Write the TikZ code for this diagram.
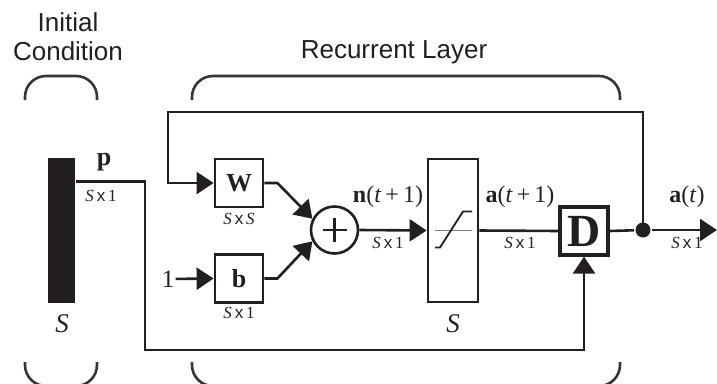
\documentclass[tikz,border=0pt]{standalone}
\usepackage{fontspec}
\setmainfont{Liberation Serif}
\setsansfont{Liberation Sans}
\usetikzlibrary{arrows.meta, positioning, calc}
\definecolor{ink}{RGB}{35,31,32}
\newcommand{\fs}[1]{\fontsize{#1}{#1}\selectfont}
\newcommand{\dimsx}[1]{{\rmfamily\itshape S}\,{\sffamily x}\,#1}

\begin{document}
\begin{tikzpicture}[x=1pt, y=-1pt, ink, line width=2.6pt,
    wire/.style={draw=ink, line width=2.6pt},
    arr/.style={wire, -{Triangle[length=17pt, width=22pt]}},
    blk/.style={draw=ink, line width=2.8pt, fill=white, inner sep=0pt, minimum size=48pt},
    brk/.style={draw=ink!90, line width=2.6pt, rounded corners=21pt},
    lbl/.style={font=\fs{24}, inner sep=0pt},
    dimlbl/.style={font=\fs{17}, inner sep=0pt},
    captxt/.style={font=\sffamily\fs{26}, inner sep=0pt, align=center}]
  \useasboundingbox (0,0) rectangle (717,383);

  % titles and brackets
  \node[captxt] (ictext) at (68,37) {Initial\\[3pt]Condition};
  \node[captxt] (rltext) at (394,52) {Recurrent Layer};
  \draw[brk] (25,100) -- (25,76) -- (97,76) -- (97,100);
  \draw[brk] (25,362) -- (25,386) -- (97,386) -- (97,362);
  \draw[brk] (192,100) -- (192,76) -- (620,76) -- (620,100);
  \draw[brk] (192,362) -- (192,386) -- (620,386) -- (620,362);

  % input
  \node[fill=ink, inner sep=0pt, minimum width=27pt, minimum height=145pt] (pin) at (61.5,230.5) {};
  \node[font=\fs{27}\itshape, inner sep=0pt] (pdim) at (62,324) {S};
  \node[lbl, font=\fs{26}\bfseries] (plbl) at (104,162) {p};
  \node[dimlbl] (pdimlbl) at (101,196) {\dimsx{1}};

  % weights, bias, sum
  \node[blk] (wbox) at (239,183) {\fs{26}\bfseries W};
  \node[blk] (bbox) at (239,278.5) {\fs{26}\bfseries b};
  \node[dimlbl] (wdim) at (239,219) {\dimsx{\textit{S}}};
  \node[dimlbl] (bdim) at (239,313) {\dimsx{1}};
  \node[lbl, font=\fs{25}] (one) at (168,279) {1};
  \node[draw=ink, circle, line width=2.6pt, minimum size=47pt, inner sep=0pt] (sum) at (334.5,230) {};
  \draw[line width=2.6pt] (sum.center) ++(-12,0) -- ++(24,0);
  \draw[line width=2.6pt] (sum.center) ++(0,-12) -- ++(0,24);

  % transfer function
  \node[blk, minimum width=50pt, minimum height=143pt] (tf) at (453,230.5) {};
  \draw[gray, line width=1.8pt] (tf.center) ++(-18,0) -- ++(37,0);
  \draw[ink, line width=1.8pt] (tf.center) ++(-18,17) -- ++(5,0) -- ++(23,-36) -- ++(9,0);
  \node[font=\fs{27}\itshape, inner sep=0pt] (tfdim) at (453,324) {S};

  % delay and output
  \node[blk, line width=3.2pt] (dbox) at (584,231) {\fs{46}\bfseries D};
  \node[circle, fill=ink, inner sep=0pt, minimum size=15pt] (junc) at (643,230) {};
  \coordinate (aout) at (717,230);
  \coordinate (fbtop) at (168,112);
  \coordinate (pbend) at (145,350);

  \node[lbl] (nlbl) at (388,197) {\textbf{n}(\textit{t}\,+\,1)};
  \node[dimlbl] (ndim) at (388,243) {\dimsx{1}};
  \node[lbl] (a1lbl) at (520,197) {\textbf{a}(\textit{t}\,+\,1)};
  \node[dimlbl] (a1dim) at (520,243) {\dimsx{1}};
  \node[lbl] (albl) at (687,197) {\textbf{a}(\textit{t})};
  \node[dimlbl] (adim) at (687,243) {\dimsx{1}};

  % connectors
  \draw[arr] ([yshift=-25pt]pin.north east) -| (pbend) -| (dbox.south);
  \draw[arr] (junc.center) |- (fbtop) |- (wbox.west);
  \draw[arr] (one) -- (bbox.west);
  \draw[arr] (wbox.east) -- ++(13,0) -- (sum.153);
  \draw[arr] (bbox.east) -- ++(13,0) -- (sum.207);
  \draw[arr] (sum.east) -- (tf.west);
  \draw[wire] (tf.east) -- (dbox.west);
  \draw[wire] (dbox.east) -- (junc);
  \draw[arr] (junc) -- (aout);
\end{tikzpicture}
\end{document}
